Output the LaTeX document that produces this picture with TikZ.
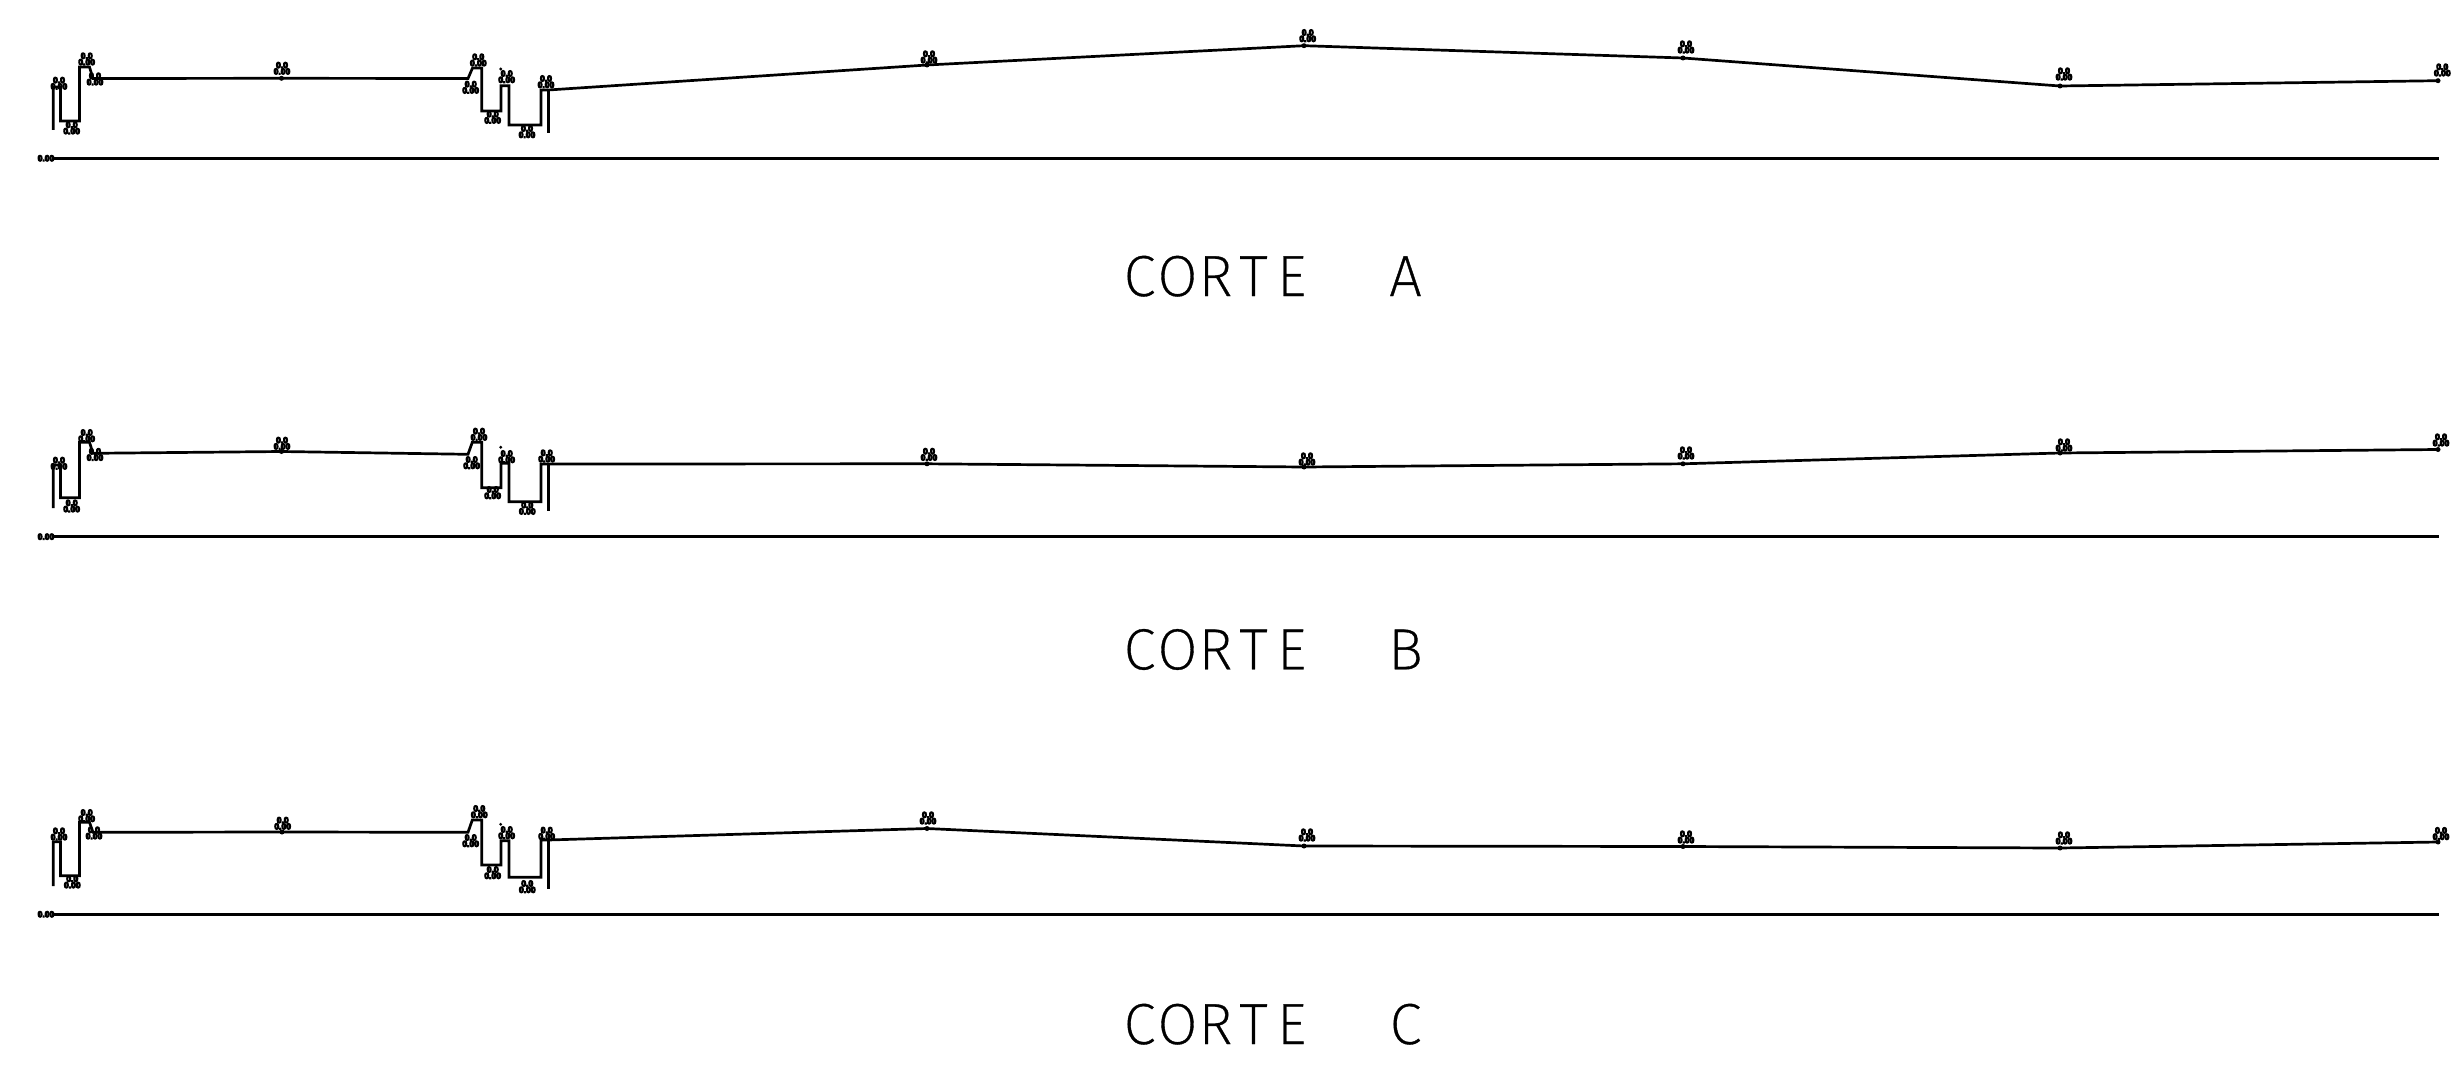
\documentclass[tikz,border=0pt]{standalone}
\usepackage{fontspec}
\setmainfont{Liberation Sans}
\newfontfamily\titlefont[UprightFont={* ExtraLight},FakeBold=0.6]{Fira Sans}
\newfontfamily\lvlfont[UprightFont={* Bold},FakeBold=12]{Liberation Sans}
\newcommand{\cadch}[1]{\makebox[38pt][c]{#1}}
\newcommand{\cadtitle}[1]{\titlefont\fontsize{58}{58}\selectfont\cadch{C}\cadch{O}\cadch{R}\cadch{T}\cadch{E}\cadch{ }\cadch{ }\cadch{#1}}
\tikzset{
  profile/.style={line width=2.7pt,line join=miter,black},
  datum/.style={line width=2.8pt,black},
  lvl/.style={inner sep=0pt,align=center,font=\lvlfont\fontsize{8.5}{6.3}\selectfont},
  lvlone/.style={inner sep=0pt,font=\lvlfont\fontsize{8.5}{6.3}\selectfont},
  cad/.style={inner sep=0pt,anchor=base},
  station/.style={circle,fill=black,inner sep=0pt,minimum size=5pt},
  tick/.style={circle,fill=black,inner sep=0pt,minimum size=3.2pt}
}
\newcommand{\lab}[3]{\node[lvl] (#1) at (#2) {0.0\\0.00};}
\begin{document}
\begin{tikzpicture}[x=1pt,y=-1pt]
\useasboundingbox (0,0) rectangle (2457,1070);
% ---------- A ----------
\draw[profile] (53.3,130) -- (53.3,87) -- (60.5,87) -- (60.5,121) -- (79.5,121) -- (79.5,67) -- (89.5,67) -- (93,78.5) -- (281.5,78.3) -- (468,78.5) -- (472.5,68) -- (481.7,68) -- (481.7,111) -- (501,111) -- (501,85.7) -- (509,85.7) -- (509,125) -- (541,125) -- (541,90) -- (548.3,90) -- (927,65) -- (1304,45.7) -- (1683,58) -- (2060,86) -- (2438,80.7);
\draw[profile] (548.3,90) -- (548.3,133);
\draw[datum] (53,158.3) -- (2439,158.3);
\node[lvlone] (a0) at (46,158.3) {0.00};
\foreach \n/\p in {a1/{59,83.3},a2/{86.7,59},a3/{95,79},a4/{71.7,128},a5/{282,68.3},a6/{478.3,60},a7/{470.7,87.3},a8/{506.7,76.7},a9/{492.7,117.3},a10/{527,131.7},a11/{546,81.7},a12/{929,57},a13/{1307.7,35.7},a14/{1686,47},a15/{2064,74},a16/{2442.3,70}}{\lab{\n}{\p}{}}
\foreach \n/\p in {as1/{281.5,78.3},as2/{927,65},as3/{1304,45.7},as4/{1683,58},as5/{2060,86},as6/{2438,80.7}}{\node[station] (\n) at (\p) {};}
\node[tick] (ad) at (500.7,69) {};
\node[cad] (at) at (1272.5,296) {\cadtitle{A}};
% ---------- B ----------
\draw[profile] (53.3,508) -- (53.3,465) -- (60.5,465) -- (60.5,497.7) -- (79.5,497.7) -- (79.5,442.3) -- (89.5,442.3) -- (93,453.3) -- (281.5,451.5) -- (468,454.3) -- (472.3,442.3) -- (481.7,442.3) -- (481.7,487.7) -- (501,487.7) -- (501,463.3) -- (509,463.3) -- (509,501.7) -- (541,501.7) -- (541,464) -- (548.3,464) -- (927,463.8) -- (1304,467) -- (1683,463.8) -- (2060,453) -- (2438,449.5);
\draw[profile] (548.3,464) -- (548.3,511);
\draw[datum] (53,536.7) -- (2439,536.7);
\node[lvlone] (b0) at (46,536.7) {0.00};
\foreach \n/\p in {b1/{59,463.3},b2/{86.7,435.7},b3/{95,454.5},b4/{71.7,506},b5/{282,443.3},b6/{479,434.3},b7/{471.7,462.7},b8/{506.7,456.7},b9/{492.7,492.7},b10/{527.3,508.3},b11/{546.7,456},b12/{929,454.4},b13/{1307,459},b14/{1686,453},b15/{2064,445},b16/{2441,440}}{\lab{\n}{\p}{}}
\foreach \n/\p in {bs1/{281.5,451.5},bs2/{927,463.8},bs3/{1304,467},bs4/{1683,463.8},bs5/{2060,453},bs6/{2438,449.5}}{\node[station] (\n) at (\p) {};}
\node[tick] (bd) at (500.7,447.3) {};
\node[cad] (bt) at (1272.5,669.3) {\cadtitle{B}};
% ---------- C ----------
\draw[profile] (53.3,886) -- (53.3,841.7) -- (60.5,841.7) -- (60.5,875.7) -- (79.5,875.7) -- (79.5,822.3) -- (89.5,822.3) -- (93,832.3) -- (282,832) -- (468,832.3) -- (472.3,820) -- (481.7,820) -- (481.7,865) -- (501,865) -- (501,840.7) -- (509,840.7) -- (509,877.3) -- (541,877.3) -- (541,840) -- (548.3,840) -- (927,828.5) -- (1304,846) -- (1683,846.5) -- (2060,848) -- (2438,842);
\draw[profile] (548.3,840) -- (548.3,889.3);
\draw[datum] (53,914.3) -- (2439,914.3);
\node[lvlone] (c0) at (46,914.3) {0.00};
\foreach \n/\p in {c1/{59,834},c2/{86.7,815.7},c3/{94,833},c4/{72.3,882},c5/{282.7,823.3},c6/{479.3,811.7},c7/{470.7,840.7},c8/{506.7,832.7},c9/{492.7,872.7},c10/{527.3,886.7},c11/{546.7,833.3},c12/{928,818},c13/{1307,835},c14/{1686,837},c15/{2064,838},c16/{2441,833.6}}{\lab{\n}{\p}{}}
\foreach \n/\p in {cs1/{282,832},cs2/{927,828.5},cs3/{1304,846},cs4/{1683,846.5},cs5/{2060,848},cs6/{2438,842}}{\node[station] (\n) at (\p) {};}
\node[tick] (cd) at (500.7,824.3) {};
\node[cad] (ct) at (1272.5,1044) {\cadtitle{C}};
\end{tikzpicture}
\end{document}
